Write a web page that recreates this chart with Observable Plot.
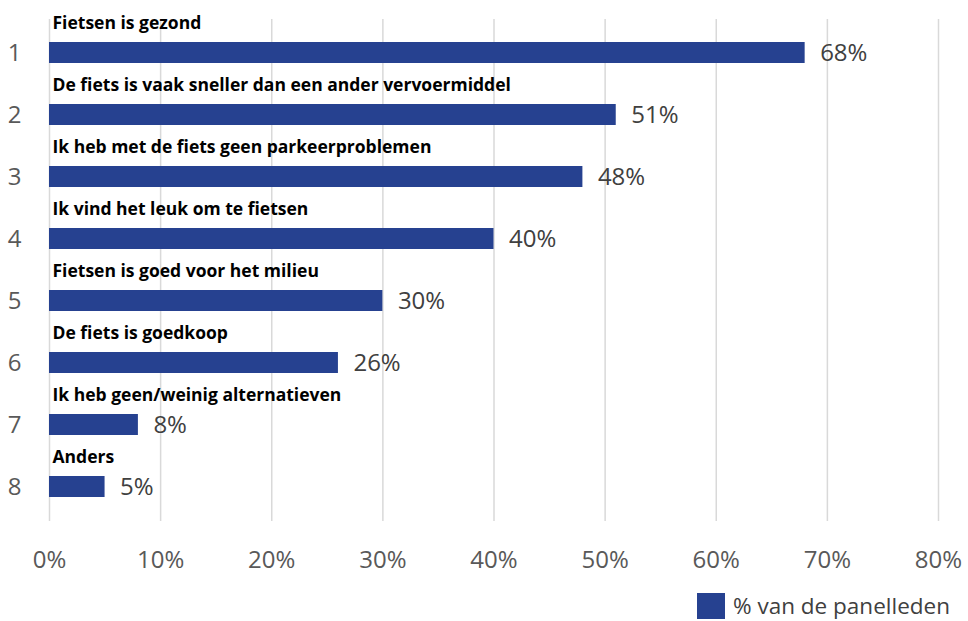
<!DOCTYPE html>
<html>
<head>
<meta charset="utf-8">
<script src="https://cdn.jsdelivr.net/npm/d3@7"></script>
<script src="https://cdn.jsdelivr.net/npm/@observablehq/plot@0.6"></script>
<style>
  html, body { margin: 0; padding: 0; background: #fff; }
  #wrap { position: relative; width: 968px; height: 621px; font-family: "Open Sans", sans-serif; overflow: hidden; }
  #legend { position: absolute; left: 697px; top: 593px; display: flex; align-items: center; font-size: 22.5px; line-height: 26px; color: #404040; }
  #legend .sw { width: 28px; height: 26px; background: #264190; margin-right: 8px; }
</style>
</head>
<body>
<div id="wrap">
  <div id="chart"></div>
  <div id="legend"><div class="sw"></div><span id="legtext"></span></div>
</div>
<script>
const ranks = ["1", "2", "3", "4", "5", "6", "7", "8"];
const reasons = [
  "Fietsen is gezond",
  "De fiets is vaak sneller dan een ander vervoermiddel",
  "Ik heb met de fiets geen parkeerproblemen",
  "Ik vind het leuk om te fietsen",
  "Fietsen is goed voor het milieu",
  "De fiets is goedkoop",
  "Ik heb geen/weinig alternatieven",
  "Anders"
];
const shares = [0.68, 0.51, 0.48, 0.40, 0.30, 0.26, 0.08, 0.05];
const xTicks = [0, 0.1, 0.2, 0.3, 0.4, 0.5, 0.6, 0.7, 0.8];
const seriesName = "% van de panelleden";

const data = ranks.map((r, i) => ({rank: r, reason: reasons[i], share: shares[i]}));
const pct = d3.format(".0%");

const chart = Plot.plot({
  width: 968,
  height: 585,
  marginLeft: 49,
  marginRight: 30,
  marginTop: 19,
  marginBottom: 64,
  style: {fontFamily: "'Open Sans', sans-serif", background: "#fff"},
  x: {domain: [0, 0.8], ticks: xTicks, tickFormat: pct, label: null},
  y: {domain: ranks, paddingInner: 0.66, paddingOuter: 0.33, label: null},
  marks: [
    Plot.ruleX(xTicks, {stroke: "#d9d9d9", strokeWidth: 1.5}),
    Plot.barX(data, {x: "share", y: "rank", fill: "#264190"}),
    Plot.text(data, {x: 0, y: "rank", text: "reason", textAnchor: "start", dx: 3, dy: -30, fontSize: 17.5, fontWeight: "bold", fill: "#000"}),
    Plot.text(data, {x: "share", y: "rank", text: d => pct(d.share), textAnchor: "start", dx: 15, fontSize: 24, fill: "#404040"}),
    Plot.axisX({ticks: xTicks, tickFormat: pct, tickSize: 0, tickPadding: 29, fontSize: 24, color: "#595959", label: null}),
    Plot.axisY({tickSize: 0, tickPadding: 28, fontSize: 24, color: "#595959", label: null})
  ]
});
document.getElementById("chart").appendChild(chart);
document.getElementById("legtext").textContent = seriesName;
</script>
</body>
</html>
